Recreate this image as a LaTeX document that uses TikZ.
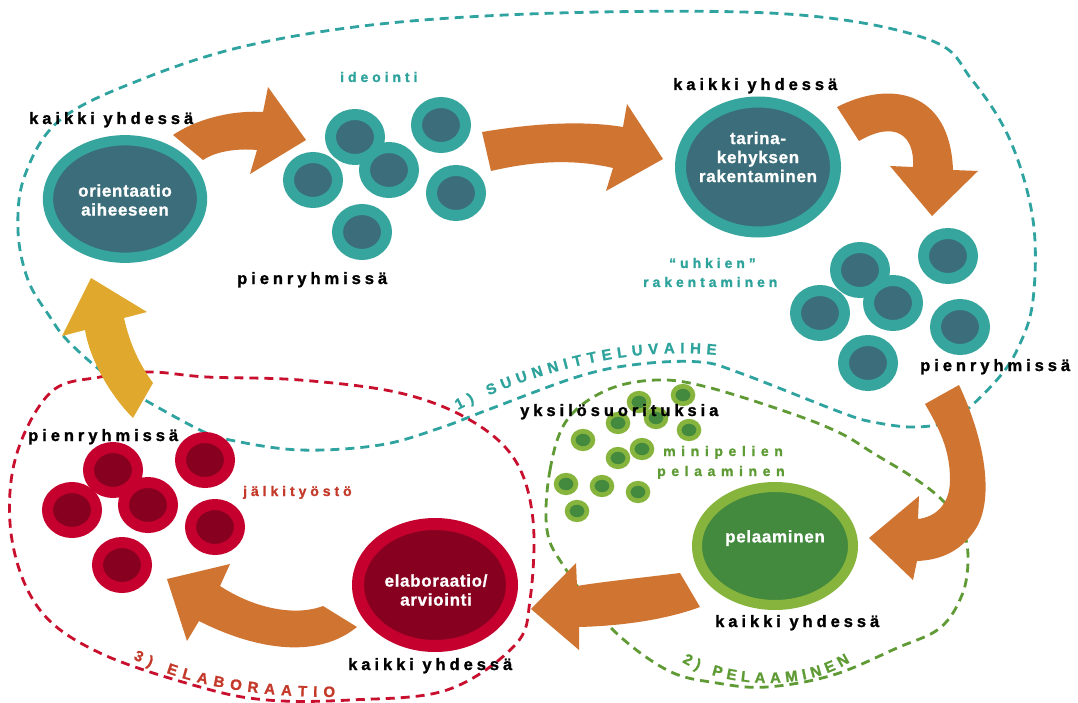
\documentclass[tikz,border=0pt]{standalone}
\usepackage{fontspec}
\setmainfont{Liberation Sans}
\usetikzlibrary{shapes.geometric,decorations.text}

% palette
\definecolor{tealL}{HTML}{35A59D}
\definecolor{tealD}{HTML}{3B6E7A}
\definecolor{grnL}{HTML}{86B43C}
\definecolor{grnD}{HTML}{438A3F}
\definecolor{redL}{HTML}{C5002E}
\definecolor{redD}{HTML}{880020}
\definecolor{arrowO}{HTML}{CF7431}
\definecolor{arrowY}{HTML}{E0A92E}
\definecolor{tealT}{HTML}{2DA39C}
\definecolor{grnT}{HTML}{5E9B34}
\definecolor{redT}{HTML}{C4392A}
\definecolor{tealDash}{HTML}{2FA3A0}
\definecolor{grnDash}{HTML}{5F9A35}
\definecolor{redDash}{HTML}{C8102E}

% letter-spaced heavy families
\newfontfamily\blackfont{Liberation Sans}[LetterSpace=24, BoldFeatures={FakeBold=1.3}]
\newfontfamily\colfont{Liberation Sans}[LetterSpace=28, BoldFeatures={FakeBold=1.2}]
\newfontfamily\grnfont{Liberation Sans}[LetterSpace=40, BoldFeatures={FakeBold=1.2}]
\newfontfamily\whitefont{Liberation Sans}[LetterSpace=4, BoldFeatures={FakeBold=1.0}]
\newfontfamily\phasefam{Liberation Sans}[BoldFeatures={FakeBold=1.2}]

\tikzset{
  phaseline/.style={dash pattern=on 9pt off 6pt, line width=2.8pt},
  blk/.style={font=\blackfont\fontsize{16.5}{19}\selectfont\bfseries, text=black, inner sep=0pt, anchor=base west},
  coltxt/.style={font=\colfont\fontsize{14}{17}\selectfont\bfseries, text=#1, inner sep=0pt, anchor=base west},
  grntxt/.style={font=\grnfont\fontsize{14}{17}\selectfont\bfseries, text=grnT, inner sep=0pt, anchor=base west},
  wtxt/.style={font=\whitefont\fontsize{17}{19}\selectfont\bfseries, text=white, inner sep=0pt, align=center},
  bigring/.style n args={5}{ellipse, draw=#1, fill=#2, line width=#3, minimum width=#4, minimum height=#5, inner sep=0pt},
  tealdot/.style={ellipse, draw=tealL, fill=tealD, line width=11pt, minimum width=49pt, minimum height=45pt, inner sep=0pt},
  reddot/.style={ellipse, draw=redL, fill=redD, line width=11pt, minimum width=49pt, minimum height=45pt, inner sep=0pt},
  grndot/.style={ellipse, draw=grnL, fill=grnD, line width=4.7pt, minimum width=19.8pt, minimum height=17.5pt, inner sep=0pt},
  blockarrow/.style={fill=#1, draw=none},
}
\newcommand\phasefmt[1]{\phasefam\bfseries\fontsize{15}{15}\selectfont\color{#1}}

\begin{document}
\begin{tikzpicture}[x=1pt,y=-1pt]
\useasboundingbox (0,0) rectangle (1078,703);
\fill[white] (0,0) rectangle (1078,703);

% ---- phase outlines ----
\draw[phaseline, tealDash] plot[smooth cycle, tension=0.6] coordinates {
  (50,317) (28,280) (18,230) (25,175) (60,120) (140,80) (250,45) (400,22)
  (600,12) (800,15) (930,40) (972,80) (1010,140) (1033,220) (1033,300)
  (1018,348) (995,382) (955,418) (917,427) (873,422) (840,412) (740,373)
  (700,362) (640,364) (580,376) (490,409) (440,428) (380,445) (300,450)
  (230,440) (200,430) (133,393) (100,370) (67,340)};
\draw[phaseline, grnDash] plot[smooth cycle, tension=0.6] coordinates {
  (547,530) (550,470) (567,420) (607,390) (657,380) (707,387) (790,413)
  (840,433) (873,453) (917,480) (945,503) (963,530) (968,560) (962,595)
  (940,628) (897,648) (833,675) (767,687) (717,683) (667,670) (610,627)
  (565,568)};
\draw[phaseline, redDash] plot[smooth cycle, tension=0.6] coordinates {
  (50,393) (100,377) (150,372) (207,377) (300,380) (400,393) (470,420)
  (515,460) (533,520) (530,600) (515,645) (447,690) (350,700) (267,700)
  (200,687) (100,653) (40,610) (12,540) (15,460)};

% ---- phase titles along the outlines ----
\path[decorate, decoration={text along path, text align={fit to path},
  text={|\phasefmt{tealT}|1) SUUNNITTELUVAIHE}}]
  (458,410) .. controls (520,378) and (620,345) .. (716,355);
\path[decorate, decoration={text along path, text align={fit to path},
  text={|\phasefmt{grnT}|2) PELAAMINEN}}]
  (682,662) .. controls (730,690) and (806,690) .. (850,662);
\path[decorate, decoration={text along path, text align={fit to path},
  text={|\phasefmt{redT}|3) ELABORAATIO}}]
  (133,659) .. controls (190,687) and (260,697) .. (335,697);

% ---- block arrows ----
\fill[blockarrow=arrowO] (173,135) .. controls (195,120) and (230,110) .. (263,112)
  -- (268,87) -- (306,140) -- (250,174) -- (257,150)
  .. controls (235,148) and (215,152) .. (203,160) -- cycle;
\fill[blockarrow=arrowO] (482,132) .. controls (530,124) and (580,120) .. (623,127)
  -- (627,104) -- (663,159) -- (606,191) -- (613,168)
  .. controls (570,158) and (530,162) .. (491,171) -- cycle;
\fill[blockarrow=arrowO] (837,107) .. controls (890,80) and (950,90) .. (953,170)
  -- (978,171) -- (932,216) -- (890,166) -- (913,167)
  .. controls (915,135) and (895,120) .. (859,141) -- cycle;
\fill[blockarrow=arrowO] (959,385) .. controls (985,440) and (995,500) .. (975,530)
  .. controls (960,552) and (940,560) .. (917,561)
  -- (913,580) -- (869,538) -- (919,496) -- (918,519)
  .. controls (935,517) and (950,505) .. (950,480)
  .. controls (950,450) and (940,430) .. (925,404) -- cycle;
\fill[blockarrow=arrowO] (680,573) .. controls (640,578) and (600,582) .. (577,586)
  -- (576,563) -- (531,609) -- (579,650) -- (579,627)
  .. controls (620,626) and (665,620) .. (700,607) -- cycle;
\fill[blockarrow=arrowO] (323,606) .. controls (300,615) and (260,612) .. (220,586)
  -- (230,564) -- (167,579) -- (187,641) -- (199,621)
  .. controls (240,642) and (310,665) .. (357,627) -- cycle;
\fill[blockarrow=arrowY] (133,418) .. controls (110,395) and (90,360) .. (85,330)
  -- (62,336) -- (91,278) -- (147,312) -- (124,318)
  .. controls (130,345) and (140,365) .. (153,383) -- cycle;

% ---- main activity ellipses ----
\node[bigring={tealL}{tealD}{10.3pt}{154pt}{117.5pt}] (orient) at (125,199) {};
\node[bigring={tealL}{tealD}{11pt}{155pt}{130pt}] (tarina) at (758,167) {};
\node[bigring={grnL}{grnD}{10pt}{156pt}{118pt}] (pelaa) at (775,546) {};
\node[bigring={redL}{redD}{12pt}{154pt}{122pt}] (elab) at (435,585) {};

\node[wtxt] (orientT) at (125,200) {orientaatio\\aiheeseen};
\node[wtxt] (tarinaT) at (758,157) {tarina-\\kehyksen\\rakentaminen};
\node[wtxt] (pelaaT) at (775,538) {pelaaminen};
\node[wtxt] (elabT) at (436,590) {elaboraatio/\\arviointi};

% ---- small-group clusters ----
\foreach \p [count=\i] in {(355,137),(441,125),(389,170),(313,180),(456,193),(362,232)}
  \node[tealdot] (ideo\i) at \p {};
\foreach \p [count=\i] in {(860,270),(948,256),(893,303),(820,313),(960,327),(868,363)}
  \node[tealdot] (uhk\i) at \p {};
\foreach \p [count=\i] in {(113,470),(205,460),(148,505),(72,510),(215,527),(122,565)}
  \node[reddot] (jalk\i) at \p {};
\foreach \p [count=\i] in {(639,402),(683,395),(618,423),(656,418),(689,430),(583,440),
    (642,449),(618,458),(566,484),(602,486),(638,492),(577,511)}
  \node[grndot] (mini\i) at \p {};

% ---- labels ----
\node[blk] (k1) at (29,124) {kaikki yhdessä};
\node[coltxt=tealT] (ideoT) at (340,82) {ideointi};
\node[blk] (p1) at (237,284) {pienryhmissä};
\node[blk] (k2) at (673,90) {kaikki yhdessä};
\node[coltxt=tealT] (uhkT1) at (669,268) {“uhkien”};
\node[coltxt=tealT] (uhkT2) at (643,287) {rakentaminen};
\node[blk] (p2) at (920,371) {pienryhmissä};
\node[blk] (yks) at (520,416) {yksilösuorituksia};
\node[grntxt] (miniT1) at (663,456) {minipelien};
\node[grntxt] (miniT2) at (657,476) {pelaaminen};
\node[blk] (k3) at (715,627) {kaikki yhdessä};
\node[blk] (p3) at (28,441) {pienryhmissä};
\node[coltxt=redT] (jalkT) at (243,496) {jälkityöstö};
\node[blk] (k4) at (348,670) {kaikki yhdessä};
\end{tikzpicture}
\end{document}
